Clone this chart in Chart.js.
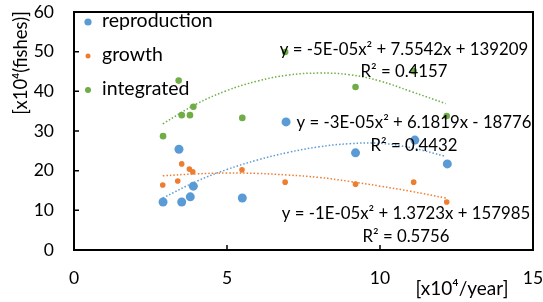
<!DOCTYPE html>
<html>
<head>
<meta charset="utf-8">
<script src="https://cdn.jsdelivr.net/npm/chart.js@4.4.0/dist/chart.umd.min.js"></script>
<style>
    html, body { margin: 0; padding: 0; background: #fff; }
    #wrap { width: 543px; height: 302px; }
</style>
</head>
<body>
<div id="wrap"><canvas id="fishChart"></canvas></div>
<script>
// values, x10^4
const reproX = [2.91, 3.43, 3.52, 3.80, 3.90, 5.50, 6.93, 9.20, 11.14, 12.20];
const reproY = [12.1, 25.4, 12.1, 13.4, 16.1, 13.1, 32.3, 24.5, 27.7, 21.7];
const growthX = [2.90, 3.39, 3.52, 3.77, 3.88, 5.49, 6.90, 9.20, 11.10, 12.18];
const growthY = [16.4, 17.4, 21.7, 20.4, 19.7, 20.2, 17.1, 16.6, 17.1, 12.1];
const integX = [2.91, 3.42, 3.52, 3.79, 3.90, 5.50, 6.90, 9.20, 11.10, 12.18];
const integY = [28.7, 42.7, 34.0, 34.0, 36.1, 33.3, 49.9, 41.1, 45.1, 33.8];

// dotted trendlines
const trendX = [2.9, 4, 5, 6, 7, 8, 9, 10, 11, 12.15];
const reproTrend = [13.1, 17.3, 20.3, 22.7, 24.6, 26.0, 26.8, 26.9, 25.8, 23.6];
const growthTrend = [18.7, 19.2, 19.4, 19.3, 18.9, 18.3, 17.3, 16.1, 14.8, 13.1];
const integTrend = [31.8, 36.8, 40.2, 42.6, 44.1, 44.6, 44.2, 42.6, 40.0, 36.9];

const xTicks = [0, 5, 10, 15];
const yTicks = [0, 10, 20, 30, 40, 50, 60];

const seriesNames = ["reproduction", "growth", "integrated"];
const colors = ["#5b9bd5", "#ed7d31", "#70ad47"];
const equations = [
    ["y = -3E-05x\u00b2 + 6.1819x - 18776", "R\u00b2 = 0.4432"],
    ["y = -1E-05x\u00b2 + 1.3723x + 157985", "R\u00b2 = 0.5756"],
    ["y = -5E-05x\u00b2 + 7.5542x + 139209", "R\u00b2 = 0.4157"]
];

function pts(xs, ys) {
    return xs.map((x, i) => ({ x: x, y: ys[i] }));
}

const FONT = "Lato, 'Open Sans', sans-serif";

const extras = {
    id: "extras",
    afterDatasetsDraw(chart) {
        const ctx = chart.ctx;
        const a = chart.chartArea;
        const xs = chart.scales.x, ys = chart.scales.y;
        ctx.save();
        // frame
        ctx.strokeStyle = "#000";
        ctx.lineWidth = 2;
        ctx.strokeRect(a.left, a.top, a.right - a.left, a.bottom - a.top);
        // inside ticks
        ctx.lineWidth = 1.5;
        ctx.beginPath();
        xTicks.forEach(v => {
            const px = xs.getPixelForValue(v);
            ctx.moveTo(px, a.bottom);
            ctx.lineTo(px, a.bottom - 5);
        });
        yTicks.forEach(v => {
            const py = ys.getPixelForValue(v);
            ctx.moveTo(a.left, py);
            ctx.lineTo(a.left + 5, py);
        });
        ctx.stroke();

        // legend
        const legY = [22, 56, 90];
        const legR = [3.6, 2.5, 3];
        ctx.font = "19.5px " + FONT;
        ctx.textBaseline = "middle";
        ctx.textAlign = "left";
        seriesNames.forEach((n, i) => {
            ctx.fillStyle = colors[i];
            ctx.beginPath();
            ctx.arc(88, legY[i], legR[i], 0, Math.PI * 2);
            ctx.fill();
            ctx.fillStyle = "#000";
            ctx.fillText(n, 102, legY[i] - 1);
        });

        // equations
        const eqPos = [[414, 123, 146], [406, 214, 237], [404, 50, 72]];
        ctx.font = "16.8px " + FONT;
        ctx.textAlign = "center";
        ctx.fillStyle = "#000";
        equations.forEach((e, i) => {
            ctx.fillText(e[0], eqPos[i][0], eqPos[i][1]);
            ctx.fillText(e[1], eqPos[i][0], eqPos[i][2]);
        });

        // axis titles
        ctx.font = "19px " + FONT;
        ctx.fillText("[x10\u2074/year]", 462, 289);
        ctx.font = "18.5px " + FONT;
        ctx.translate(21, 63);
        ctx.rotate(-Math.PI / 2);
        ctx.fillText("[x10\u2074(fishes)]", 0, 0);
        ctx.restore();
    }
};

document.addEventListener("DOMContentLoaded", function () {
    const ctx = document.getElementById("fishChart").getContext("2d");
    const trends = [reproTrend, growthTrend, integTrend];
    const pointSets = [pts(reproX, reproY), pts(growthX, growthY), pts(integX, integY)];
    const radii = [4.5, 2.8, 3.3];
    const datasets = [];
    trends.forEach((t, i) => {
        datasets.push({
            label: seriesNames[i] + " trend",
            data: pts(trendX, t),
            showLine: true,
            borderColor: colors[i],
            borderWidth: 1.5,
            borderDash: [1.5, 2],
            pointRadius: 0,
            tension: 0.4,
            fill: false
        });
    });
    pointSets.forEach((p, i) => {
        datasets.push({
            label: seriesNames[i],
            data: p,
            backgroundColor: colors[i],
            borderWidth: 0,
            pointRadius: radii[i]
        });
    });

    new Chart(ctx, {
        type: "scatter",
        data: { datasets: datasets },
        options: {
            responsive: true,
            maintainAspectRatio: false,
            animation: false,
            layout: { padding: { left: 0, top: 12, right: 10, bottom: 0 } },
            plugins: { legend: { display: false }, tooltip: { enabled: false } },
            scales: {
                x: {
                    type: "linear", min: 0, max: 15,
                    afterBuildTicks: s => { s.ticks = xTicks.map(v => ({ value: v })); },
                    afterFit: s => { s.height = 52; s.paddingLeft = 0; s.paddingRight = 0; },
                    grid: { display: false, drawTicks: false },
                    border: { display: false },
                    ticks: { padding: 18, color: "#000", font: { family: FONT, size: 17.5 } }
                },
                y: {
                    type: "linear", min: 0, max: 60,
                    afterBuildTicks: s => { s.ticks = yTicks.map(v => ({ value: v })); },
                    afterFit: s => { s.width = 74; s.paddingTop = 0; s.paddingBottom = 0; },
                    grid: { display: false, drawTicks: false },
                    border: { display: false },
                    ticks: { padding: 20, color: "#000", font: { family: FONT, size: 17.5 } }
                }
            }
        },
        plugins: [extras]
    });
});
</script>
</body>
</html>
